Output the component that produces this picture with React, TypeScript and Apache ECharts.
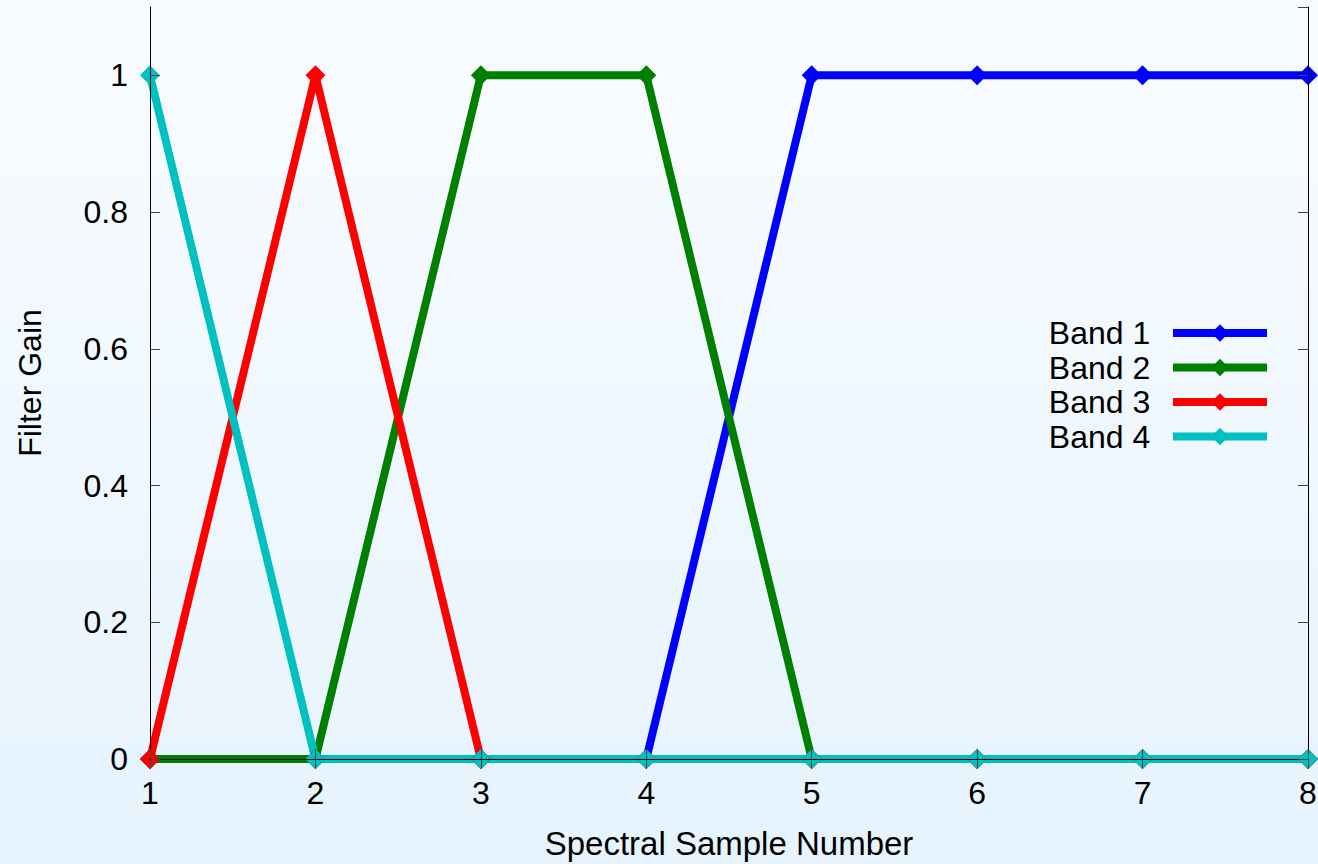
import React, { useEffect, useRef } from "react";
import * as echarts from "echarts";

const samples = [1, 2, 3, 4, 5, 6, 7, 8];
const band1 = [0, 0, 0, 0, 1, 1, 1, 1];
const band2 = [0, 0, 1, 1, 0, 0, 0, 0];
const band3 = [0, 1, 0, 0, 0, 0, 0, 0];
const band4 = [1, 0, 0, 0, 0, 0, 0, 0];
const bandNames = ["Band 1", "Band 2", "Band 3", "Band 4"];
const bandValues = [band1, band2, band3, band4];
const bandColors = ["#0000ff", "#008000", "#ff0000", "#00c0c0"];

const FONT = "'Liberation Sans', Arial, Helvetica, sans-serif";

export default function App() {
  const ref = useRef<HTMLDivElement>(null);
  useEffect(() => {
    document.body.style.margin = "0";
    const chart = echarts.init(ref.current!, null, { renderer: "svg" });
    const tickStyle = { inside: true, length: 10, lineStyle: { color: "#444", width: 1 } };
    const lineAxis = { show: true, lineStyle: { color: "#000", width: 1 } };
    const option: any = {
      animation: false,
      backgroundColor: {
        type: "linear", x: 0, y: 0, x2: 0, y2: 1,
        colorStops: [
          { offset: 0, color: "#f9fcff" },
          { offset: 1, color: "#e6f3fd" },
        ],
      },
      textStyle: { fontFamily: FONT },
      grid: { left: 150, right: 10, top: 7, bottom: 105, containLabel: false, outerBoundsMode: "none" },
      legend: {
        orient: "vertical",
        right: 52,
        top: 312,
        align: "right",
        itemWidth: 94,
        itemHeight: 22,
        itemGap: 2.5,
        data: bandNames,
        formatter: (n: string) => n + "  ",
        lineStyle: { width: 8 },
        textStyle: { fontSize: 32, color: "#000", fontFamily: FONT, lineHeight: 32 },
      },
      xAxis: [
        {
          type: "value", position: "bottom", min: 1, max: 8, interval: 1, z: 10,
          axisLine: lineAxis, axisTick: tickStyle, splitLine: { show: false },
          axisLabel: { fontSize: 32, color: "#000", margin: 18, fontFamily: FONT },
          name: "Spectral Sample Number", nameLocation: "middle", nameGap: 68,
          nameMoveOverlap: false,
          nameTextStyle: { fontSize: 33, color: "#000", fontFamily: FONT },
        },
        {
          type: "value", position: "top", min: 1, max: 8, interval: 1, z: 10,
          axisLine: lineAxis, axisTick: tickStyle, splitLine: { show: false },
          axisLabel: { show: false },
        },
      ],
      yAxis: [
        {
          type: "value", position: "left", min: 0, max: 1.1, interval: 0.2, z: 10,
          axisLine: lineAxis, axisTick: tickStyle, splitLine: { show: false },
          axisLabel: { fontSize: 32, color: "#000", margin: 22, showMaxLabel: false, fontFamily: FONT },
          name: "Filter Gain", nameLocation: "middle", nameGap: 104,
          nameMoveOverlap: false,
          nameTextStyle: { fontSize: 32, color: "#000", fontFamily: FONT },
        },
        {
          type: "value", position: "right", min: 0, max: 1.1, interval: 0.2, z: 10,
          axisLine: lineAxis, axisTick: tickStyle, splitLine: { show: false },
          axisLabel: { show: false },
        },
      ],
      series: bandNames.map((name, i) => ({
        name,
        type: "line",
        xAxisIndex: 0,
        yAxisIndex: 0,
        data: samples.map((s, j) => [s, bandValues[i][j]]),
        symbol: "diamond",
        symbolSize: 20,
        showSymbol: true,
        clip: false,
        color: bandColors[i],
        itemStyle: { color: bandColors[i] },
        lineStyle: { color: bandColors[i], width: 8, join: "miter", miterLimit: 10 },
      })),
    };
    option.legend.right = 42;
    chart.setOption(option);
    return () => chart.dispose();
  }, []);
  return <div ref={ref} style={{ width: 1318, height: 864 }} />;
}
